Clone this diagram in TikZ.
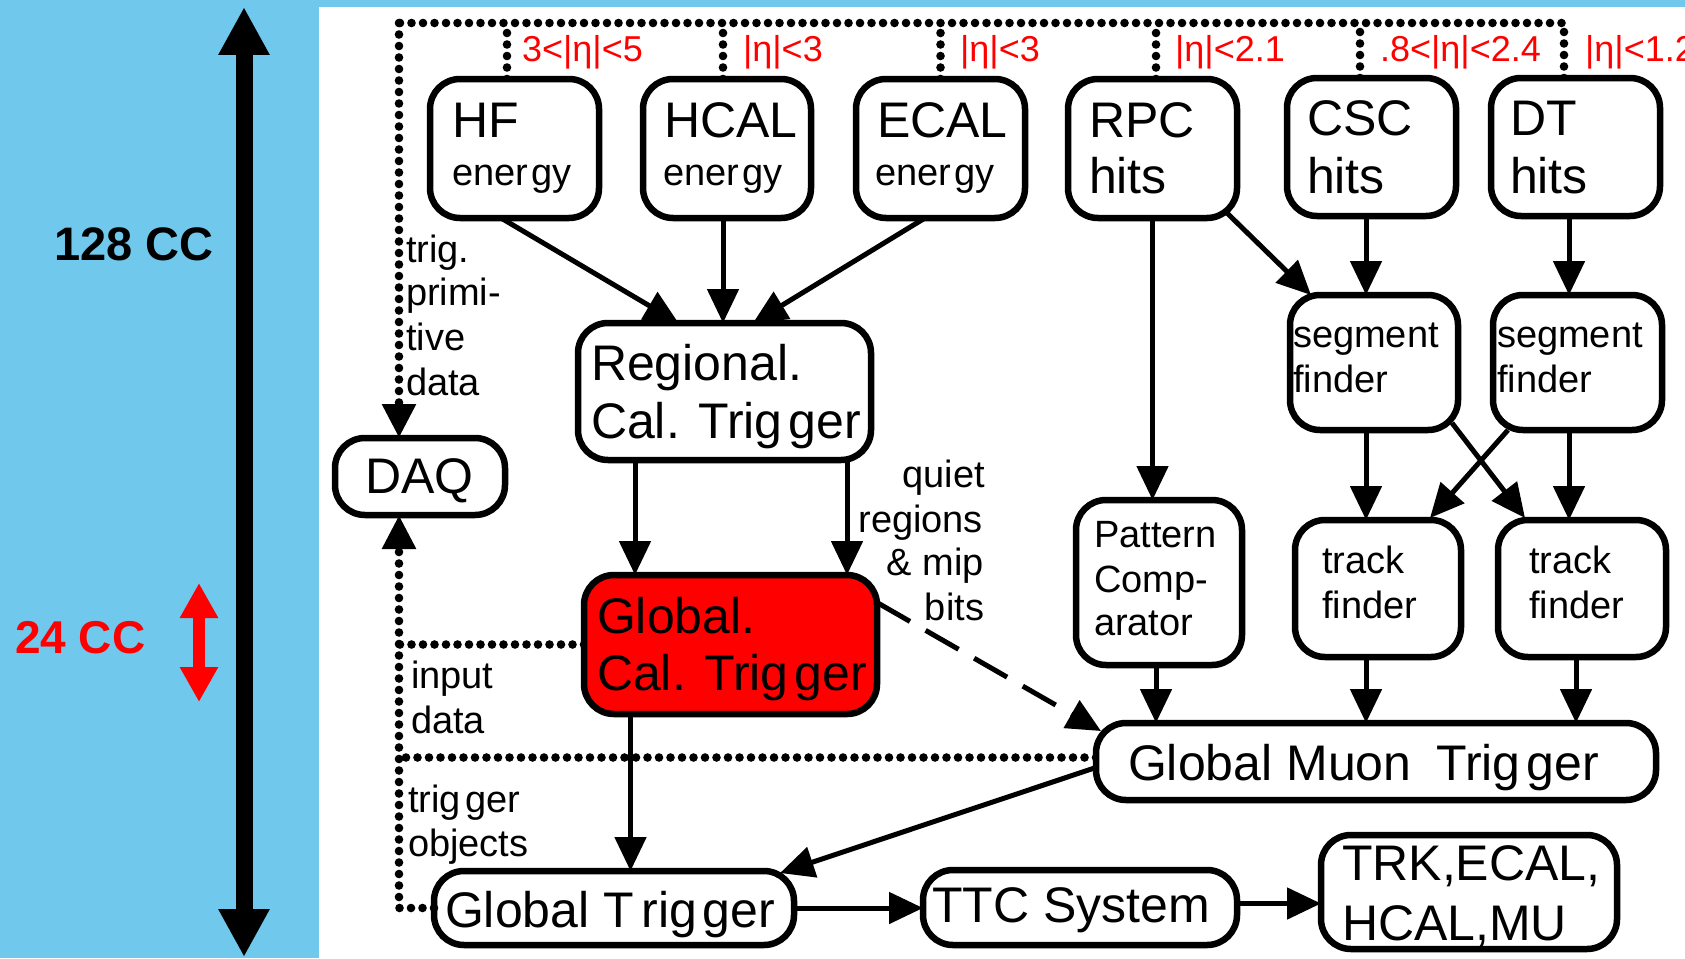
\documentclass[tikz,border=0pt]{standalone}
\usepackage{fontspec}
\setmainfont{Liberation Sans}
\usetikzlibrary{arrows.meta}
\definecolor{panelblue}{RGB}{112,200,236}
\definecolor{hotred}{RGB}{255,0,0}
\newcommand\fTitle{\fontsize{50}{57}\selectfont}
\newcommand\fSub{\fontsize{38}{44}\selectfont}
\newcommand\fLab{\fontsize{38}{44}\selectfont}
\newcommand\fRed{\fontsize{36}{40}\selectfont}
\pgfdeclarelayer{back}
\pgfdeclarelayer{bg}
\pgfsetlayers{back,bg,main}
\begin{document}
\begin{tikzpicture}[x=1pt,y=-1pt,
  box/.style={rectangle, draw=black, line width=6.5pt, rounded corners=30pt, fill=white, inner sep=0pt, outer sep=0pt},
  txt/.style={anchor=base west, inner sep=0pt, outer sep=0pt},
  labr/.style={anchor=base east, inner sep=0pt, outer sep=0pt, font=\fLab},
  redlab/.style={anchor=base west, inner sep=0pt, outer sep=0pt, font=\fRed, text=hotred},
  arr/.style={line width=5pt, -{Triangle[length=34pt,width=31pt]}},
  dotln/.style={line width=8.6pt, line cap=round, dash pattern=on 0pt off 11.5pt},
  dotarr/.style={-{Triangle[length=34pt,width=32pt]}},
  dashln/.style={line width=5pt, dash pattern=on 38pt off 18pt, -{Triangle[length=34pt,width=31pt]}}
]
\useasboundingbox (0,0) rectangle (1685,958);
\clip (0,0) rectangle (1685,958);
\begin{pgfonlayer}{back}
  \fill[panelblue] (0,0) rectangle (1685,958);
  \fill[white] (319,7) rectangle (1685,958);
\end{pgfonlayer}

% left time scale
\coordinate (bigTop) at (244,7);
\coordinate (bigBot) at (244,957);
\draw[line width=17pt, {Triangle[length=48pt,width=48pt]}-{Triangle[length=48pt,width=48pt]}] (bigTop) -- (bigBot);
\node[txt, font=\fontsize{47}{52}\selectfont\bfseries] (cc128) at (54,260) {128 CC};
\coordinate (redTop) at (199,583);
\coordinate (redBot) at (199,702);
\draw[hotred, line width=12pt, {Triangle[length=35pt,width=36pt]}-{Triangle[length=35pt,width=36pt]}] (redTop) -- (redBot);
\node[txt, font=\fontsize{46}{52}\selectfont\bfseries, text=hotred] (cc24) at (15,653) {24 CC};

% boxes
\node[box, minimum width=169pt, minimum height=139pt] (hf) at (514.5,148.5) {};
\node[box, minimum width=168pt, minimum height=139pt] (hcal) at (727,148.5) {};
\node[box, minimum width=169pt, minimum height=139pt] (ecal) at (940.5,148.5) {};
\node[box, minimum width=169pt, minimum height=139pt] (rpc) at (1152.5,148.5) {};
\node[box, minimum width=169pt, minimum height=138pt] (csc) at (1371.5,147) {};
\node[box, minimum width=169pt, minimum height=138pt] (dt) at (1575.5,147) {};
\node[box, minimum width=168pt, minimum height=135pt] (seg1) at (1374,362.5) {};
\node[box, minimum width=169pt, minimum height=135pt] (seg2) at (1577.5,362.5) {};
\node[box, minimum width=293pt, minimum height=137pt] (reg) at (724.5,391.5) {};
\node[box, minimum width=170pt, minimum height=77pt] (daq) at (420,476.5) {};
\node[box, fill=hotred, minimum width=293pt, minimum height=139pt] (gct) at (730.5,644.5) {};
\node[box, minimum width=166pt, minimum height=165pt] (pat) at (1159,582.5) {};
\node[box, minimum width=166pt, minimum height=137pt] (tf1) at (1378,588.5) {};
\node[box, minimum width=168pt, minimum height=137pt] (tf2) at (1582,588.5) {};
\node[box, minimum width=560pt, minimum height=77pt] (gmt) at (1376,761.5) {};
\node[box, minimum width=360pt, minimum height=74pt] (gt) at (614,908) {};
\node[box, minimum width=314pt, minimum height=75pt] (ttc) at (1080,907.5) {};
\node[box, minimum width=296pt, minimum height=114pt] (trk) at (1469,892) {};

% box texts
\node[txt, font=\fTitle] (hfA) at (452,137) {HF};
\node[txt, font=\fSub] (hfB) at (452,185) {ener\hspace{0.1em}gy};
\node[txt, font=\fTitle] (hcalA) at (664,137) {HCAL};
\node[txt, font=\fSub] (hcalB) at (663,185) {ener\hspace{0.1em}gy};
\node[txt, font=\fTitle] (ecalA) at (877,137) {ECAL};
\node[txt, font=\fSub] (ecalB) at (875,185) {ener\hspace{0.1em}gy};
\node[txt, font=\fTitle] (rpcA) at (1089,137) {RPC};
\node[txt, font=\fTitle] (rpcB) at (1089,193) {hits};
\node[txt, font=\fTitle] (cscA) at (1307,135) {CSC};
\node[txt, font=\fTitle] (cscB) at (1307,193) {hits};
\node[txt, font=\fTitle] (dtA) at (1510,135) {DT};
\node[txt, font=\fTitle] (dtB) at (1510,193) {hits};
\node[txt, font=\fSub] (seg1A) at (1293,347) {segment};
\node[txt, font=\fSub] (seg1B) at (1293,392) {finder};
\node[txt, font=\fSub] (seg2A) at (1497,347) {segment};
\node[txt, font=\fSub] (seg2B) at (1497,392) {finder};
\node[txt, font=\fTitle] (regA) at (591,380) {Regional.};
\node[txt, font=\fTitle] (regB) at (591,438) {Cal. Trig\hspace{0.12em}ger};
\node[txt, font=\fTitle] (daqA) at (365,493) {DAQ};
\node[txt, font=\fTitle] (gctA) at (597,633) {Global.};
\node[txt, font=\fTitle] (gctB) at (597,690) {Cal. Trig\hspace{0.12em}ger};
\node[txt, font=\fSub] (patA) at (1094,547) {Pattern};
\node[txt, font=\fSub] (patB) at (1094,592) {Comp-};
\node[txt, font=\fSub] (patC) at (1094,635) {arator};
\node[txt, font=\fSub] (tf1A) at (1322,573) {track};
\node[txt, font=\fSub] (tf1B) at (1322,618) {finder};
\node[txt, font=\fSub] (tf2A) at (1529,573) {track};
\node[txt, font=\fSub] (tf2B) at (1529,618) {finder};
\node[txt, font=\fTitle] (gmtA) at (1128,780) {Global Muon\hspace{0.5em}Trig\hspace{0.12em}ger};
\node[txt, font=\fTitle] (gtA) at (445,927) {Global T\hspace{0.15em}rig\hspace{0.12em}ger};
\node[txt, font=\fTitle] (ttcA) at (932,922) {TTC System};
\node[txt, font=\fTitle] (trkA) at (1342,880) {TRK,ECAL,};
\node[txt, font=\fTitle] (trkB) at (1342,940) {HCAL,MU};

% red eta labels
\node[redlab] (eta1) at (522,62) {3<|η|<5};
\node[redlab] (eta2) at (743,62) {|η|<3};
\node[redlab] (eta3) at (960,62) {|η|<3};
\node[redlab] (eta4) at (1175,62) {|η|<2.1};
\node[redlab] (eta5) at (1380,62) {.8<|η|<2.4};
\node[redlab] (eta6) at (1585,62) {|η|<1.2};

% side labels
\node[txt, font=\fLab] (lt1) at (406,262) {trig.};
\node[txt, font=\fLab] (lt2) at (406,305) {primi-};
\node[txt, font=\fLab] (lt3) at (406,350) {tive};
\node[txt, font=\fLab] (lt4) at (406,395) {data};
\node[txt, font=\fLab] (li1) at (411,688) {input};
\node[txt, font=\fLab] (li2) at (411,733) {data};
\node[txt, font=\fLab] (lo1) at (408,812) {trig\hspace{0.12em}ger};
\node[txt, font=\fLab] (lo2) at (408,856) {objects};
\node[labr] (lq1) at (985,487) {quiet};
\node[labr] (lq2) at (983,532) {regions};
\node[labr] (lq3) at (984,575) {\& mip};
\node[labr] (lq4) at (984,620) {bits};

% dotted readout network
\coordinate (tl) at (399,23);
\begin{pgfonlayer}{bg}
  \draw[dotln] ([xshift=-11.5pt]dt.north) |- (tl);
  \draw[dotln] ([xshift=-7.5pt]hf.north) -- ([xshift=-7.5pt]hf.north |- tl);
  \draw[dotln] ([xshift=-4pt]hcal.north) -- ([xshift=-4pt]hcal.north |- tl);
  \draw[dotln] (ecal.north) -- (ecal.north |- tl);
  \draw[dotln] ([xshift=3.5pt]rpc.north) -- ([xshift=3.5pt]rpc.north |- tl);
  \draw[dotln] ([xshift=-11.5pt]csc.north) -- ([xshift=-11.5pt]csc.north |- tl);
  \draw[dotln] (gct.west) -- (gct.west -| tl);
  \draw[dotln] ([yshift=4pt]gmt.west) -- ([yshift=4pt]gmt.west -| tl);
\end{pgfonlayer}
\draw[dotln, dotarr] (tl) -- ([xshift=-21pt]daq.north);
\draw[dotln, dotarr] (gt.west) -- (gt.west -| tl) -- ([xshift=-21pt]daq.south);

% solid connectors
\draw[arr] ([xshift=-13.5pt]hf.south) -- ([xshift=-46pt]reg.north);
\draw[arr] ([xshift=-4pt]hcal.south) -- ([xshift=-4pt]hcal.south |- reg.north);
\draw[arr] ([xshift=-15.5pt]ecal.south) -- ([xshift=28.5pt]reg.north);
\draw[arr] ([xshift=-89.5pt]reg.south) -- ([xshift=-89.5pt]reg.south |- gct.north);
\draw[arr] ([xshift=122.5pt]reg.south) -- ([xshift=122.5pt]reg.south |- gct.north);
\draw[arr] ([xshift=-100pt]gct.south) -- ([xshift=-100pt]gct.south |- gt.north);
\draw[dashln] ([yshift=42pt]gct.east) -- ([xshift=5pt,yshift=-8pt]gmt.north west);
\draw[arr] ([yshift=-6pt]gmt.west) -- ([xshift=-14pt,yshift=-2pt]gt.north east);
\draw[arr] (gt.east) -- (gt.east -| ttc.west);
\draw[arr] ([yshift=4pt]ttc.east) -- ([yshift=4pt]ttc.east -| trk.west);
\draw[arr] (rpc.south) -- (rpc.south |- pat.north);
\draw[arr] ([xshift=-10pt,yshift=5pt]rpc.south east) -- ([xshift=21pt]seg1.north west);
\draw[arr] ([xshift=-5.5pt]csc.south) -- ([xshift=-5.5pt]csc.south |- seg1.north);
\draw[arr] ([xshift=-6.5pt]dt.south) -- ([xshift=-6.5pt]dt.south |- seg2.north);
\draw[arr] ([xshift=-8pt]seg1.south) -- ([xshift=-8pt]seg1.south |- tf1.north);
\draw[arr] ([xshift=-8.5pt]seg2.south) -- ([xshift=-8.5pt]seg2.south |- tf2.north);
\draw[arr] ([xshift=-6pt,yshift=7pt]seg1.south east) -- ([xshift=27pt,yshift=2pt]tf2.north west);
\draw[arr] ([xshift=15pt]seg2.south west) -- ([xshift=-31pt,yshift=2pt]tf1.north east);
\draw[arr] ([xshift=-3pt]pat.south) -- ([xshift=-3pt]pat.south |- gmt.north);
\draw[arr] ([xshift=-12pt]tf1.south) -- ([xshift=-12pt]tf1.south |- gmt.north);
\draw[arr] ([xshift=-6pt]tf2.south) -- ([xshift=-6pt]tf2.south |- gmt.north);
\end{tikzpicture}
\end{document}
